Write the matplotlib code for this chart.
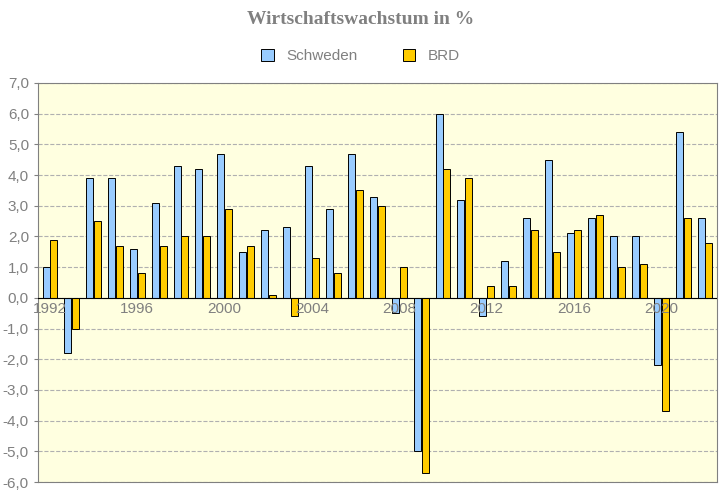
import matplotlib
matplotlib.use("Agg")
import matplotlib.pyplot as plt
import numpy as np

years = list(range(1992, 2023))
schweden = [1.0, -1.8, 3.9, 3.9, 1.6, 3.1, 4.3, 4.2, 4.7, 1.5, 2.2, 2.3, 4.3, 2.9, 4.7, 3.3,
            -0.5, -5.0, 6.0, 3.2, -0.6, 1.2, 2.6, 4.5, 2.1, 2.6, 2.0, 2.0, -2.2, 5.4, 2.6]
brd = [1.9, -1.0, 2.5, 1.7, 0.8, 1.7, 2.0, 2.0, 2.9, 1.7, 0.1, -0.6, 1.3, 0.8, 3.5, 3.0,
       1.0, -5.7, 4.2, 3.9, 0.4, 0.4, 2.2, 1.5, 2.2, 2.7, 1.0, 1.1, -3.7, 2.6, 1.8]
label_years = [1992, 1996, 2000, 2004, 2008, 2012, 2016, 2020]
yticks = np.arange(-6, 7.01, 1)

fig = plt.figure(figsize=(7.21, 4.97), dpi=100)
ax = fig.add_axes([38/721, 1-482/497, 679/721, 399/497])
ax.set_facecolor("#FFFFE0")
x = np.arange(len(years))
w = 0.32
ax.bar(x - w/2 - 0.02, schweden, w, color="#99CCFF", edgecolor="black", linewidth=0.7, label="Schweden", zorder=3)
ax.bar(x + w/2 + 0.02, brd, w, color="#FFCC00", edgecolor="black", linewidth=0.7, label="BRD", zorder=3)
ax.set_xlim(-0.55, len(years) - 0.45)
ax.set_ylim(-6, 7)
ax.set_yticks(yticks)
ax.set_yticklabels([f"{v:.1f}".replace(".", ",") for v in yticks], color="#808080", fontsize=11, fontfamily="Liberation Sans")
ax.yaxis.grid(True, linestyle="--", color="#B0B0B0", linewidth=0.8, zorder=0)
ax.set_xticks([])
ax.axhline(0, color="black", linewidth=0.8, zorder=4)
for yr in label_years:
    ax.text(years.index(yr), -0.15, str(yr), ha="center", va="top", color="#808080", fontsize=11, fontfamily="Liberation Sans", zorder=5)
for s in ax.spines.values():
    s.set_color("#808080")
ax.tick_params(axis="y", length=3, color="#808080")
fig.text(0.5, 1-20/497, "Wirtschaftswachstum in %", ha="center", va="center", fontsize=14,
         fontweight="bold", color="#808080", fontfamily="Liberation Serif")
fig.legend(loc="center", bbox_to_anchor=(0.5, 1-56/497), ncol=2, frameon=False,
           prop={"family": "Liberation Sans", "size": 11}, labelcolor="#808080",
           handlelength=0.8, handleheight=0.8, columnspacing=3)
fig.savefig("out.png", dpi=100)
